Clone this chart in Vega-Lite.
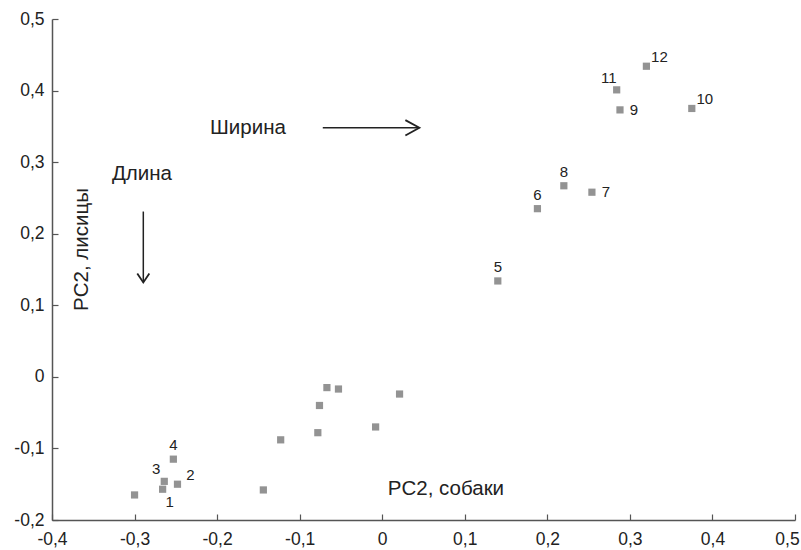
{
  "$schema": "https://vega.github.io/schema/vega-lite/v6.json",
  "width": 743,
  "height": 501,
  "autosize": {"type": "none"},
  "padding": {"left": 52, "top": 19, "right": 6, "bottom": 30},
  "background": "white",
  "config": {
    "view": {"stroke": null},
    "font": "Liberation Sans",
    "locale": {"number": {"decimal": ",", "thousands": " ", "grouping": [3], "currency": ["", ""], "minus": "-"}},
    "axis": {
      "grid": false,
      "domainColor": "#555555",
      "domainWidth": 1.5,
      "tickColor": "#555555",
      "tickWidth": 1.2,
      "tickSize": -6,
      "labelFont": "Liberation Sans",
      "labelFontSize": 17.5,
      "labelColor": "#222222",
      "title": null,
      "format": ".1~f"
    }
  },
  "datasets": {
    "pts": [
      {"x": -0.300, "y": -0.165, "lab": ""},
      {"x": -0.266, "y": -0.157, "lab": "1"},
      {"x": -0.248, "y": -0.150, "lab": "2"},
      {"x": -0.264, "y": -0.146, "lab": "3"},
      {"x": -0.253, "y": -0.115, "lab": "4"},
      {"x": -0.144, "y": -0.158, "lab": ""},
      {"x": -0.123, "y": -0.088, "lab": ""},
      {"x": -0.078, "y": -0.078, "lab": ""},
      {"x": -0.076, "y": -0.040, "lab": ""},
      {"x": -0.067, "y": -0.015, "lab": ""},
      {"x": -0.053, "y": -0.017, "lab": ""},
      {"x": -0.008, "y": -0.070, "lab": ""},
      {"x": 0.021, "y": -0.024, "lab": ""},
      {"x": 0.140, "y": 0.134, "lab": "5"},
      {"x": 0.188, "y": 0.235, "lab": "6"},
      {"x": 0.254, "y": 0.258, "lab": "7"},
      {"x": 0.220, "y": 0.267, "lab": "8"},
      {"x": 0.288, "y": 0.373, "lab": "9"},
      {"x": 0.375, "y": 0.375, "lab": "10"},
      {"x": 0.284, "y": 0.401, "lab": "11"},
      {"x": 0.320, "y": 0.434, "lab": "12"}
    ],
    "notes": [
      {"x": -0.1626, "y": 0.348, "t": "Ширина"},
      {"x": -0.291, "y": 0.284, "t": "Длина"},
      {"x": 0.0772, "y": -0.157, "t": "PC2, собаки"}
    ],
    "vnotes": [
      {"x": -0.364, "y": 0.178, "t": "PC2, лисицы"}
    ],
    "arrows": [
      {"name": "Ширина", "x1": -0.072, "y1": 0.348, "x2": 0.045, "y2": 0.348},
      {"name": "Длина", "x1": -0.2894, "y1": 0.231, "x2": -0.2894, "y2": 0.132}
    ]
  },
  "layer": [
    {
      "data": {"name": "pts"},
      "mark": {"type": "point", "shape": "square", "filled": true, "size": 52, "color": "#939393", "opacity": 1},
      "encoding": {
        "x": {"field": "x", "type": "quantitative", "scale": {"domain": [-0.4, 0.5], "nice": false, "zero": false},
              "axis": {"values": [-0.4, -0.3, -0.2, -0.1, 0, 0.1, 0.2, 0.3, 0.4, 0.5], "labelPadding": 16, "labelFlush": false,
                       "labelOffset": {"condition": {"test": "datum.value >= 0.5", "value": -8}, "value": 0}}},
        "y": {"field": "y", "type": "quantitative", "scale": {"domain": [-0.2, 0.5], "nice": false, "zero": false},
              "axis": {"values": [-0.2, -0.1, 0, 0.1, 0.2, 0.3, 0.4, 0.5], "labelPadding": 14}}
      }
    },
    {
      "data": {"name": "pts"},
      "transform": [{"filter": {"field": "lab", "oneOf": ["4", "5", "6", "8"]}}],
      "mark": {"type": "text", "fontSize": 15, "color": "#222222", "dy": -14},
      "encoding": {"x": {"field": "x", "type": "quantitative"}, "y": {"field": "y", "type": "quantitative"}, "text": {"field": "lab"}}
    },
    {
      "data": {"name": "pts"},
      "transform": [{"filter": {"field": "lab", "oneOf": ["7", "9"]}}],
      "mark": {"type": "text", "fontSize": 15, "color": "#222222", "dx": 14},
      "encoding": {"x": {"field": "x", "type": "quantitative"}, "y": {"field": "y", "type": "quantitative"}, "text": {"field": "lab"}}
    },
    {
      "data": {"name": "pts"},
      "transform": [{"filter": {"field": "lab", "oneOf": ["2", "10", "12"]}}],
      "mark": {"type": "text", "fontSize": 15, "color": "#222222", "dx": 13, "dy": -9},
      "encoding": {"x": {"field": "x", "type": "quantitative"}, "y": {"field": "y", "type": "quantitative"}, "text": {"field": "lab"}}
    },
    {
      "data": {"name": "pts"},
      "transform": [{"filter": {"field": "lab", "oneOf": ["3", "11"]}}],
      "mark": {"type": "text", "fontSize": 15, "color": "#222222", "dx": -8, "dy": -12},
      "encoding": {"x": {"field": "x", "type": "quantitative"}, "y": {"field": "y", "type": "quantitative"}, "text": {"field": "lab"}}
    },
    {
      "data": {"name": "pts"},
      "transform": [{"filter": {"field": "lab", "oneOf": ["1"]}}],
      "mark": {"type": "text", "fontSize": 15, "color": "#222222", "dx": 7, "dy": 13},
      "encoding": {"x": {"field": "x", "type": "quantitative"}, "y": {"field": "y", "type": "quantitative"}, "text": {"field": "lab"}}
    },
    {
      "data": {"name": "notes"},
      "mark": {"type": "text", "fontSize": 20.5, "color": "#222222"},
      "encoding": {"x": {"field": "x", "type": "quantitative"}, "y": {"field": "y", "type": "quantitative"}, "text": {"field": "t"}}
    },
    {
      "data": {"name": "vnotes"},
      "mark": {"type": "text", "fontSize": 20.5, "color": "#222222", "angle": 270},
      "encoding": {"x": {"field": "x", "type": "quantitative"}, "y": {"field": "y", "type": "quantitative"}, "text": {"field": "t"}}
    },
    {
      "data": {"name": "arrows"},
      "mark": {"type": "rule", "color": "#222222", "strokeWidth": 1.5},
      "encoding": {
        "x": {"field": "x1", "type": "quantitative"}, "x2": {"field": "x2"},
        "y": {"field": "y1", "type": "quantitative"}, "y2": {"field": "y2"}
      }
    },
    {
      "data": {"name": "arrows"},
      "transform": [{"filter": {"field": "name", "equal": "Ширина"}}],
      "mark": {"type": "point", "shape": "M-1,-0.55L0,0L-1,0.55", "filled": false, "size": 784, "stroke": "#222222", "strokeWidth": 1.8, "opacity": 1},
      "encoding": {"x": {"field": "x2", "type": "quantitative"}, "y": {"field": "y2", "type": "quantitative"}}
    },
    {
      "data": {"name": "arrows"},
      "transform": [{"filter": {"field": "name", "equal": "Длина"}}],
      "mark": {"type": "point", "shape": "M-0.67,-1L0,0L0.67,-1", "filled": false, "size": 324, "stroke": "#222222", "strokeWidth": 1.8, "opacity": 1},
      "encoding": {"x": {"field": "x2", "type": "quantitative"}, "y": {"field": "y2", "type": "quantitative"}}
    }
  ]
}
